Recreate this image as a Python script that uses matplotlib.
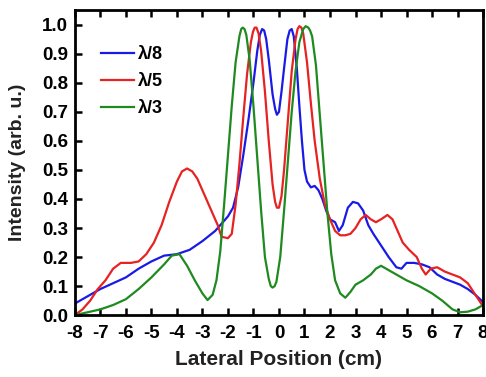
import matplotlib
matplotlib.use("Agg")
import matplotlib.pyplot as plt
import numpy as np

plt.rcParams["font.family"] = ["Liberation Sans", "DejaVu Sans"]
plt.rcParams["font.weight"] = "bold"

# lambda/8
blue_x = [-8.0, -7.5, -7.0, -6.5, -6.0, -5.5, -5.0, -4.5, -4.0, -3.5, -3.0, -2.5,
          -2.0, -1.8, -1.6, -1.4, -1.2, -1.0, -0.85, -0.75, -0.66, -0.58, -0.5, -0.4,
          -0.25, -0.15, -0.08, 0.0, 0.1, 0.2, 0.33, 0.42, 0.5, 0.58, 0.7, 0.8, 0.9, 1.0,
          1.1, 1.25, 1.4, 1.55, 1.7, 1.85, 2.0, 2.2, 2.35, 2.5, 2.7, 2.9, 3.1, 3.3, 3.5, 3.7,
          4.0, 4.3, 4.6, 4.8, 5.0, 5.3, 5.6, 5.9, 6.2, 6.5, 6.8, 7.1, 7.4, 7.7, 8.0]
blue_y = [0.04, 0.065, 0.09, 0.11, 0.13, 0.16, 0.185, 0.205, 0.21, 0.225, 0.255, 0.29,
          0.34, 0.37, 0.44, 0.55, 0.67, 0.80, 0.91, 0.965, 0.985, 0.98, 0.95, 0.88,
          0.76, 0.71, 0.69, 0.70, 0.77, 0.85, 0.95, 0.98, 0.985, 0.96, 0.85, 0.72, 0.60, 0.50,
          0.46, 0.44, 0.445, 0.43, 0.40, 0.36, 0.33, 0.32, 0.29, 0.31, 0.37, 0.39, 0.385, 0.36, 0.31, 0.28,
          0.24, 0.20, 0.165, 0.16, 0.18, 0.18, 0.175, 0.165, 0.14, 0.125, 0.115, 0.105, 0.09, 0.07, 0.045]

# lambda/5
red_x = [-8.0, -7.7, -7.4, -7.1, -6.8, -6.5, -6.2, -5.8, -5.5, -5.2, -4.9, -4.6, -4.3,
         -4.0, -3.8, -3.6, -3.4, -3.2, -3.0, -2.8, -2.6, -2.4, -2.25, -2.0, -1.85, -1.7,
         -1.55, -1.4, -1.25, -1.1, -1.02, -0.95, -0.88, -0.8, -0.7, -0.55, -0.4, -0.25,
         -0.15, -0.08, 0.0, 0.1, 0.2, 0.35, 0.5, 0.65, 0.73, 0.8, 0.88, 0.95, 1.1, 1.25,
         1.4, 1.6, 1.8, 2.0, 2.2, 2.4, 2.6, 2.8, 3.0, 3.2, 3.4, 3.6, 3.8, 4.0, 4.25, 4.45,
         4.65, 4.85, 5.1, 5.4, 5.6, 5.75, 5.95, 6.2, 6.5, 6.8, 7.1, 7.4, 7.7, 8.0]
red_y = [0.0, 0.02, 0.05, 0.09, 0.12, 0.16, 0.18, 0.18, 0.185, 0.21, 0.25, 0.31, 0.39,
         0.46, 0.495, 0.505, 0.495, 0.47, 0.43, 0.39, 0.35, 0.31, 0.27, 0.265, 0.28, 0.38,
         0.52, 0.68, 0.83, 0.94, 0.975, 0.99, 0.99, 0.97, 0.91, 0.77, 0.60, 0.45,
         0.39, 0.37, 0.37, 0.41, 0.50, 0.67, 0.84, 0.95, 0.985, 0.995, 0.99, 0.97, 0.87, 0.73,
         0.60, 0.47, 0.38, 0.33, 0.29, 0.275, 0.275, 0.28, 0.30, 0.33, 0.345, 0.33, 0.32, 0.33, 0.345, 0.33,
         0.29, 0.25, 0.225, 0.20, 0.16, 0.14, 0.16, 0.165, 0.15, 0.14, 0.13, 0.11, 0.07, 0.03]

# lambda/3
green_x = [-8.0, -7.5, -7.0, -6.5, -6.0, -5.5, -5.0, -4.5, -4.2, -3.9, -3.6, -3.3, -3.0,
           -2.8, -2.6, -2.45, -2.3, -2.15, -2.0, -1.85, -1.7, -1.55, -1.48, -1.42, -1.35,
           -1.28, -1.15, -1.0, -0.85, -0.7, -0.55, -0.4, -0.32, -0.25, -0.17, -0.1, 0.05,
           0.2, 0.35, 0.5, 0.65, 0.8, 0.95, 1.05, 1.15, 1.22, 1.3, 1.45, 1.6, 1.75, 1.9,
           2.05, 2.2, 2.4, 2.6, 2.8, 3.0, 3.3, 3.6, 3.8, 4.0, 4.3, 4.6, 5.0, 5.5, 6.0, 6.4,
           6.8, 7.1, 7.4, 7.7, 8.0]
green_y = [0.0, 0.01, 0.02, 0.035, 0.055, 0.09, 0.13, 0.175, 0.205, 0.21, 0.17, 0.12, 0.075,
           0.052, 0.07, 0.12, 0.22, 0.38, 0.55, 0.72, 0.87, 0.96, 0.985, 0.99, 0.985,
           0.965, 0.88, 0.72, 0.54, 0.36, 0.20, 0.125, 0.10, 0.095, 0.10, 0.115, 0.20,
           0.36, 0.53, 0.70, 0.84, 0.94, 0.985, 0.995, 0.99, 0.98, 0.96, 0.86, 0.69, 0.52, 0.35,
           0.21, 0.12, 0.075, 0.06, 0.08, 0.105, 0.12, 0.14, 0.16, 0.17, 0.155, 0.14, 0.12, 0.10, 0.075, 0.05,
           0.02, 0.01, 0.012, 0.02, 0.035]

x_ticks = list(range(-8, 9))
y_ticks = [0.0, 0.1, 0.2, 0.3, 0.4, 0.5, 0.6, 0.7, 0.8, 0.9, 1.0]

fig = plt.figure(figsize=(4.86, 3.77), dpi=100)
ax = fig.add_axes([0.154, 0.164, 0.840, 0.809])

ax.plot(blue_x, blue_y, color="#1a1ae6", lw=1.6, label="λ/8")
ax.plot(red_x, red_y, color="#e62222", lw=1.6, label="λ/5")
ax.plot(green_x, green_y, color="#1f8a1f", lw=1.6, label="λ/3")

ax.set_xlim(-8, 8)
ax.set_ylim(0, 1.05)
ax.set_xticks(x_ticks)
ax.set_xticklabels([str(v) for v in x_ticks])  # plain hyphen like the original
ax.set_yticks(y_ticks)
ax.set_yticklabels([f"{v:.1f}" for v in y_ticks])
ax.tick_params(direction="in", length=5, width=1.8, labelsize=13.5,
               top=True, right=False)
ax.tick_params(axis="x", pad=7)
ax.tick_params(axis="y", pad=5)
for s in ax.spines.values():
    s.set_linewidth(2)

ax.set_xlabel("Lateral Position (cm)", fontsize=15, fontweight="bold",
              color="#222222", labelpad=6)
ax.set_ylabel("Intensity (arb. u.)", fontsize=14, fontweight="bold",
              color="#222222", labelpad=11)

ax.legend(loc="upper left", frameon=False, fontsize=13, handlelength=1.8,
          handletextpad=0.25, labelspacing=0.55, bbox_to_anchor=(0.025, 0.935))

fig.savefig("out.png", dpi=100)
